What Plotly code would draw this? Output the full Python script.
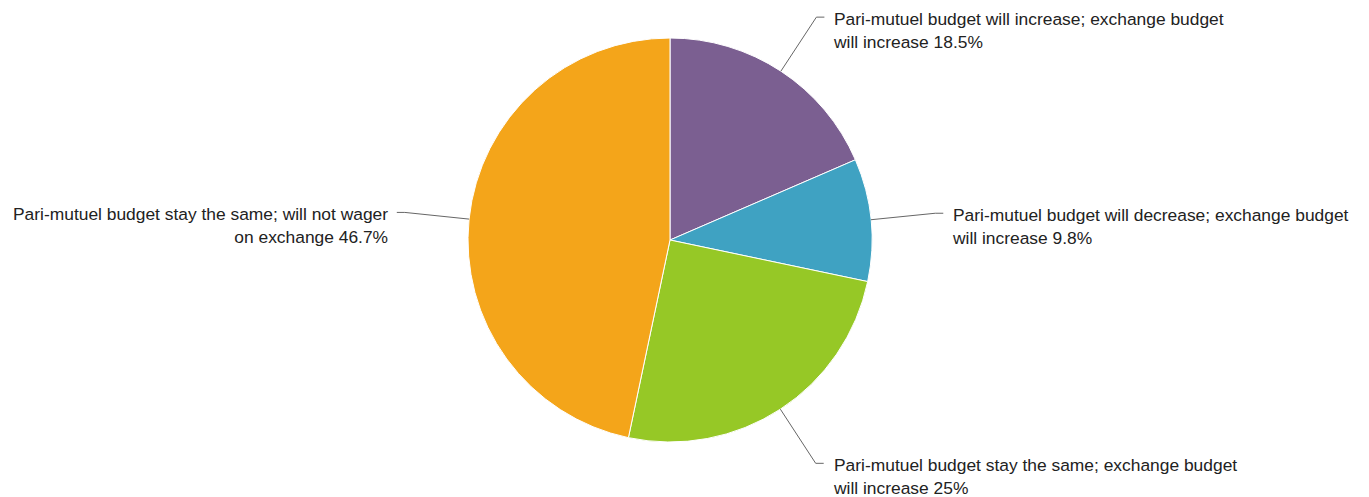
import math
import plotly.graph_objects as go

categories = [
    "Pari-mutuel budget will increase; exchange budget<br>will increase",
    "Pari-mutuel budget will decrease; exchange budget<br>will increase",
    "Pari-mutuel budget stay the same; exchange budget<br>will increase",
    "Pari-mutuel budget stay the same; will not wager<br>on exchange",
]
values = [18.5, 9.8, 25, 46.7]
value_labels = ["18.5%", "9.8%", "25%", "46.7%"]
colors = ["#7B5F91", "#3FA2C2", "#96C826", "#F4A51A"]

# page body has an 8px margin, so the figure is offset by 8px
OFF = 8
W, H = 1369 - OFF, 497 - OFF
cx, cy, r = 670 - OFF, 240 - OFF, 202

fig = go.Figure(go.Pie(
    labels=categories,
    values=values,
    sort=False,
    direction="clockwise",
    rotation=0,
    marker=dict(colors=colors, line=dict(color="white", width=1)),
    textinfo="none",
    hoverinfo="label+percent",
    domain=dict(x=[(cx - r) / W, (cx + r) / W], y=[(H - cy - r) / H, (H - cy + r) / H]),
    showlegend=False,
))

shapes = []
annotations = []
total = sum(values)
cum = 0.0
for cat, v, vl in zip(categories, values, value_labels):
    mid = (cum + v / 2) / total * 2 * math.pi
    cum += v
    sx, sy = cx + r * math.sin(mid), cy - r * math.cos(mid)
    er = r * 1.32
    ex, ey = cx + er * math.sin(mid), cy - er * math.cos(mid)
    side = 1 if math.sin(mid) >= 0 else -1
    hx = ex + side * 8
    pts = [(sx, sy), (ex, ey), (hx, ey)]
    path = "M " + " L ".join(f"{px / W:.5f},{1 - py / H:.5f}" for px, py in pts)
    shapes.append(dict(type="path", path=path, xref="paper", yref="paper",
                       line=dict(color="#666666", width=1)))
    tx = hx + side * 8
    annotations.append(dict(
        x=tx / W, y=1 - (ey - 9.5) / H, xref="paper", yref="paper",
        xanchor="left" if side > 0 else "right", yanchor="top",
        align="left" if side > 0 else "right",
        text=f"{cat} {vl}", showarrow=False, borderpad=0,
        font=dict(family="Liberation Sans, Arial, sans-serif", size=17.4, color="#222222"),
    ))

fig.update_layout(
    width=W, height=H,
    margin=dict(l=0, r=0, t=0, b=0),
    paper_bgcolor="white", plot_bgcolor="white",
    shapes=shapes, annotations=annotations,
)

fig.write_html("out.html")
